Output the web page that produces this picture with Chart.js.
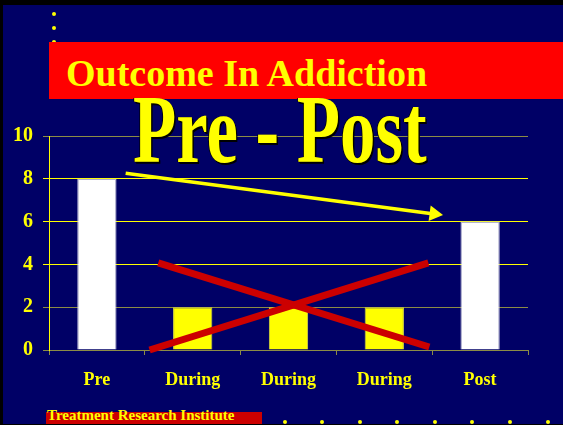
<!DOCTYPE html>
<html>
<head>
<meta charset="utf-8">
<title>Outcome In Addiction</title>
<script src="https://cdn.jsdelivr.net/npm/chart.js@4.4.0/dist/chart.umd.min.js"></script>
<style>
    html, body { margin: 0; padding: 0; background: #000; width: 563px; height: 425px; overflow: hidden; }
    .abs { position: absolute; }
    #slide { left: 3px; top: 5px; width: 560px; height: 419px; background: #000066; }
    .dot { width: 4px; height: 4px; border-radius: 50%; background: #ffff00; }
    #banner { left: 49px; top: 42px; width: 514px; height: 57px; background: #ff0000; }
    #title { left: 66px; top: 55px; font: bold 38px 'Liberation Serif', serif; line-height: 37px; color: #ffff00; white-space: nowrap; }
    #outcomeChart { left: 0; top: 0; }
    #bigText { left: 133px; top: 81px; font: bold 97px 'Liberation Serif', serif; line-height: 97px; color: #ffff00;
        white-space: nowrap; transform: scaleX(0.73); transform-origin: 0 0;
        text-shadow: 1px 1px 0 #000, 2px 2px 0 #000, -1px 0 0 #000; }
    #footerBar { left: 46px; top: 412px; width: 216px; height: 12px; background: #cc0000; }
    #footer { left: 47px; top: 408px; font: bold 15px 'Liberation Serif', serif; line-height: 15px; color: #ffff00; white-space: nowrap; }
</style>
</head>
<body>
<div id="slide" class="abs"></div>
<div id="dots"></div>
<div id="banner" class="abs"></div>
<div id="title" class="abs">Outcome In Addiction</div>
<div id="footerBar" class="abs"></div>
<div id="footer" class="abs">Treatment Research Institute</div>
<canvas id="outcomeChart" class="abs" width="563" height="425"></canvas>
<div id="bigText" class="abs">Pre - Post</div>

<script>
// chart data
const categories = ['Pre', 'During', 'During', 'During', 'Post'];
const outcomeValues = [8, 2, 2, 2, 6];
const yTickValues = [0, 2, 4, 6, 8, 10];

// overlay marks, in data units (x = category index, y = value)
const crossLineA = [{ x: 0.64, y: 4.07 }, { x: 3.47, y: 0.14 }];
const crossLineB = [{ x: 0.55, y: 0.0 }, { x: 3.46, y: 4.07 }];
const trendArrow = [{ x: 0.30, y: 8.26 }, { x: 3.52, y: 6.36 }];

const YELLOW = '#ffff00';
const OLIVE = '#8c8c45';

function addDots() {
    const holder = document.getElementById('dots');
    const spots = [[52, 12], [52, 26], [52, 40]];
    [283, 320, 358, 395, 433, 470, 508, 546].forEach(x => spots.push([x, 420]));
    spots.forEach(([x, y]) => {
        const d = document.createElement('div');
        d.className = 'abs dot';
        d.style.left = x + 'px';
        d.style.top = y + 'px';
        holder.appendChild(d);
    });
}

function initOutcomeChart() {
    const ctx = document.getElementById('outcomeChart');
    if (!ctx) return;

    const arrowAngle = 97.5;

    new Chart(ctx, {
        type: 'bar',
        data: {
            labels: categories,
            datasets: [
                {
                    type: 'line',
                    data: trendArrow,
                    xAxisID: 'x2',
                    borderColor: YELLOW,
                    borderWidth: 3.5,
                    pointStyle: 'triangle',
                    pointRadius: [0, 9],
                    pointRotation: arrowAngle,
                    pointBackgroundColor: YELLOW,
                    pointBorderWidth: 0,
                    clip: false,
                    order: 1
                },
                {
                    type: 'line',
                    data: crossLineA,
                    xAxisID: 'x2',
                    borderColor: '#cc0000',
                    borderWidth: 7,
                    pointRadius: 0,
                    clip: false,
                    order: 1
                },
                {
                    type: 'line',
                    data: crossLineB,
                    xAxisID: 'x2',
                    borderColor: '#cc0000',
                    borderWidth: 7,
                    pointRadius: 0,
                    clip: false,
                    order: 1
                },
                {
                    type: 'bar',
                    data: outcomeValues,
                    xAxisID: 'x',
                    grouped: false,
                    backgroundColor: c => categories[c.dataIndex] === 'During' ? YELLOW : '#ffffff',
                    borderColor: c => categories[c.dataIndex] === 'During' ? '#d8d840' : '#c8c8e0',
                    borderWidth: 1,
                    categoryPercentage: 1,
                    barPercentage: 0.41,
                    order: 2
                }
            ]
        },
        options: {
            responsive: false,
            animation: false,
            events: [],
            layout: { padding: { left: 0, right: 35, top: 136, bottom: 35 } },
            plugins: {
                legend: { display: false },
                tooltip: { enabled: false }
            },
            scales: {
                x: {
                    type: 'category',
                    offset: true,
                    grid: { offset: true, drawOnChartArea: false, tickLength: 5, color: OLIVE },
                    border: { color: OLIVE },
                    ticks: {
                        color: YELLOW,
                        padding: 15,
                        font: { family: "'Liberation Serif', serif", size: 18, weight: 'bold' }
                    },
                    afterFit: scale => { scale.height = 40; }
                },
                x2: {
                    type: 'linear',
                    position: 'bottom',
                    min: -0.5,
                    max: 4.5,
                    offset: false,
                    display: false
                },
                y: {
                    min: 0,
                    max: 10,
                    afterBuildTicks: scale => {
                        scale.ticks = yTickValues.map(v => ({ value: v }));
                    },
                    grid: {
                        tickLength: 6,
                        color: c => [0, 2, 10].includes(c.tick.value) ? OLIVE : YELLOW
                    },
                    border: { color: YELLOW },
                    ticks: {
                        color: YELLOW,
                        padding: 10,
                        font: { family: "'Liberation Serif', serif", size: 20, weight: 'bold' }
                    },
                    afterFit: scale => { scale.width = 49; }
                }
            }
        }
    });
}

document.addEventListener('DOMContentLoaded', () => {
    addDots();
    initOutcomeChart();
});
</script>
</body>
</html>
